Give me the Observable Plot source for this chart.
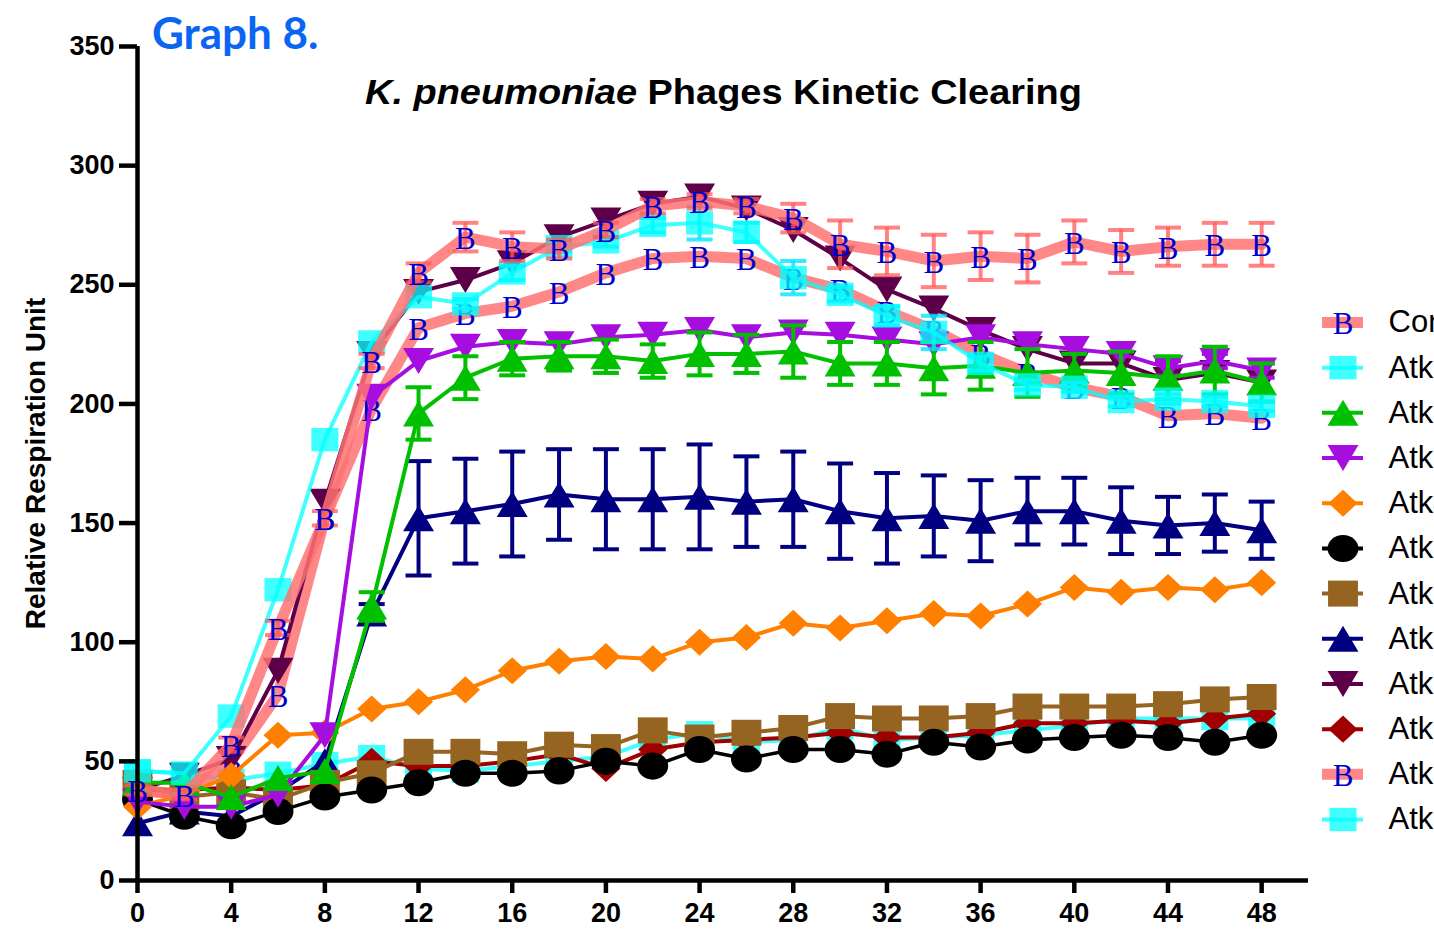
<!DOCTYPE html>
<html>
<head>
<meta charset="utf-8">
<script src="https://cdn.jsdelivr.net/npm/d3@7"></script>
<script src="https://cdn.jsdelivr.net/npm/@observablehq/plot@0.6"></script>
<style>
html, body { margin: 0; padding: 0; background: #fff; overflow: hidden; }
#wrap { position: relative; width: 1434px; height: 931px; overflow: hidden; background: #fff; }
#wrap svg { position: absolute; top: 0; overflow: visible; }
</style>
</head>
<body>
<div id="wrap"></div>
<script>
// ---------- data ----------
const hours = [0, 2, 4, 6, 8, 10, 12, 14, 16, 18, 20, 22, 24, 26, 28, 30, 32, 34, 36, 38, 40, 42, 44, 46, 48];
const yTicks = [0, 50, 100, 150, 200, 250, 300, 350];
const xTicks = [0, 4, 8, 12, 16, 20, 24, 28, 32, 36, 40, 44, 48];
const seriesNames = ["Control", "Atk1", "Atk2", "Atk3", "Atk4", "Atk5", "Atk6", "Atk7", "Atk8", "Atk9", "Atk10", "Atk11"];

const control    = [38, 36, 57, 106, 152, 218, 255, 270, 266, 265, 273, 283, 285, 283, 278, 267, 264, 260, 262, 261, 268, 264, 266, 267, 267];
const controlErr = [2, 2, 3, 3, 3, 3, 4, 6, 6, 4, 3, 3, 3, 3, 6, 10, 10, 11, 10, 10, 9, 9, 8, 9, 9];
const atk1       = [46, 45, 69, 122, 185, 226, 245, 242, 255, 266, 268, 275, 276, 272, 253, 246, 237, 230, 217, 208, 207, 201, 202, 201, 199];
const atk1Err    = [0, 0, 0, 0, 0, 0, 0, 2, 3, 2, 2, 3, 7, 4, 7, 3, 4, 7, 3, 2, 2, 2, 2, 2, 2];
const atk2       = [41, 41, 35, 43, 46, 115, 196, 211, 219, 220, 220, 218, 221, 221, 222, 217, 217, 215, 216, 213, 214, 213, 211, 214, 209];
const atk2Err    = [0, 0, 0, 0, 0, 6, 11, 9, 7, 6, 7, 7, 9, 8, 11, 9, 9, 11, 10, 10, 7, 9, 9, 10, 8];
const atk3       = [33, 31, 31, 36, 61, 203, 218, 224, 226, 225, 228, 229, 231, 228, 230, 229, 227, 225, 228, 225, 223, 221, 215, 218, 214];
const atk3Err    = [0, 0, 0, 0, 0, 0, 0, 0, 0, 0, 0, 0, 0, 0, 0, 0, 0, 0, 0, 0, 0, 0, 3, 3, 3];
const atk4       = [31, 36, 44, 61, 62, 72, 75, 80, 88, 92, 94, 93, 100, 102, 108, 106, 109, 112, 111, 116, 123, 121, 123, 122, 125];
const atk5       = [34, 27, 23, 29, 35, 38, 41, 45, 45, 46, 50, 48, 55, 51, 55, 55, 53, 58, 56, 59, 60, 61, 60, 58, 61];
const atk6       = [41, 35, 37, 34, 41, 45, 54, 54, 53, 57, 56, 63, 60, 62, 64, 69, 68, 68, 69, 73, 73, 73, 74, 76, 77];
const atk7       = [24, 29, 27, 37, 50, 112, 152, 155, 158, 162, 160, 160, 161, 159, 160, 155, 152, 153, 151, 155, 155, 151, 149, 150, 147];
const atk7Err    = [0, 0, 0, 0, 0, 4, 24, 22, 22, 19, 21, 21, 22, 19, 20, 20, 19, 17, 17, 14, 14, 14, 12, 12, 12];
const atk8       = [38, 44, 51, 88, 159, 221, 247, 252, 259, 270, 277, 284, 287, 282, 273, 261, 248, 240, 231, 223, 217, 217, 210, 213, 209];
const atk9       = [38, 38, 39, 38, 40, 50, 48, 48, 50, 53, 47, 55, 58, 59, 60, 62, 60, 60, 62, 66, 66, 67, 66, 68, 70];
const atk10      = [38, 36, 50, 78, 152, 198, 232, 238, 241, 247, 255, 261, 262, 261, 253, 248, 239, 231, 221, 213, 207, 203, 195, 196, 194];
const atk11      = [46, 45, 42, 45, 49, 52, 47, 46, 48, 50, 52, 59, 62, 58, 59, 64, 59, 60, 61, 63, 65, 68, 68, 68, 68];

const seriesValues = [control, atk1, atk2, atk3, atk4, atk5, atk6, atk7, atk8, atk9, atk10, atk11];
const seriesErrors = [controlErr, atk1Err, atk2Err, atk3Err, null, null, null, atk7Err, null, null, null, null];

// ---------- marker shapes ----------
function shape(kind, ax, by) {
  return {
    draw(ctx, size) {
      const r = Math.sqrt(size / Math.PI), a = r * ax, b = r * by;
      if (kind === "rect") { ctx.moveTo(-a, -b); ctx.lineTo(a, -b); ctx.lineTo(a, b); ctx.lineTo(-a, b); ctx.closePath(); }
      else if (kind === "ellipse") {
        const k = 0.5523;
        ctx.moveTo(a, 0);
        ctx.bezierCurveTo(a, k * b, k * a, b, 0, b);
        ctx.bezierCurveTo(-k * a, b, -a, k * b, -a, 0);
        ctx.bezierCurveTo(-a, -k * b, -k * a, -b, 0, -b);
        ctx.bezierCurveTo(k * a, -b, a, -k * b, a, 0);
        ctx.closePath();
      }
      else if (kind === "up") { ctx.moveTo(0, -b); ctx.lineTo(a, b); ctx.lineTo(-a, b); ctx.closePath(); }
      else if (kind === "down") { ctx.moveTo(0, b); ctx.lineTo(a, -b); ctx.lineTo(-a, -b); ctx.closePath(); }
      else if (kind === "diamond") { ctx.moveTo(0, -b); ctx.lineTo(a, 0); ctx.lineTo(0, b); ctx.lineTo(-a, 0); ctx.closePath(); }
      else if (kind === "cap") { ctx.moveTo(-a, 0); ctx.lineTo(a, 0); }
    }
  };
}
const capSymbol = shape("cap", 1.0, 1.0);

// ---------- styles per series ----------
const looks = [
  {color: "#ff7272", width: 11, opacity: 0.85, marker: "B", err: "#ff5a5a", errOpacity: 0.75},
  {color: "#00ffff", width: 4, opacity: 0.75, marker: shape("rect", 1.04, 0.9), err: "#00e5ff", errOpacity: 0.8},
  {color: "#00c000", width: 4, opacity: 1, marker: shape("up", 1.19, 1.0), err: "#00c000", errOpacity: 1},
  {color: "#a60ddf", width: 4, opacity: 1, marker: shape("down", 1.19, 1.0), err: "#a60ddf", errOpacity: 1},
  {color: "#ff8000", width: 4, opacity: 1, marker: shape("diamond", 1.12, 1.04)},
  {color: "#000000", width: 3.5, opacity: 1, marker: shape("ellipse", 1.19, 1.04)},
  {color: "#956421", width: 4, opacity: 1, marker: shape("rect", 1.15, 1.0)},
  {color: "#000080", width: 4, opacity: 1, marker: shape("up", 1.19, 1.0), err: "#000080", errOpacity: 1},
  {color: "#5e0049", width: 4, opacity: 1, marker: shape("down", 1.19, 1.0)},
  {color: "#a00000", width: 4, opacity: 1, marker: shape("diamond", 1.12, 1.04)},
  {color: "#ff7272", width: 11, opacity: 0.85, marker: "B"},
  {color: "#00ffff", width: 4, opacity: 0.75, marker: shape("rect", 1.04, 0.9)}
];

const rowsFor = (k) => hours.map((h, i) => ({
  series: seriesNames[k], hour: h, value: seriesValues[k][i],
  err: seriesErrors[k] ? seriesErrors[k][i] : 0
}));

function markerMark(data, look, opts) {
  if (look.marker === "B") {
    return Plot.text(data, {...opts, text: () => "B", fill: "#0000cc", fontFamily: "Liberation Serif, Times New Roman, serif",
      fontSize: 31, fontWeight: "normal", dy: 2});
  }
  return Plot.dot(data, {...opts, symbol: look.marker, r: 13, fill: look.color, fillOpacity: look.opacity, stroke: "none"});
}

// ---------- main chart ----------
const marks = [];
for (let k = seriesNames.length - 1; k >= 0; k--) {
  const look = looks[k];
  const rows = rowsFor(k);
  marks.push(Plot.line(rows, {x: "hour", y: "value", stroke: look.color, strokeWidth: look.width, strokeOpacity: look.opacity}));
  const eb = rows.filter(d => d.err > 0);
  if (eb.length && look.err) {
    marks.push(Plot.ruleX(eb, {x: "hour", y1: d => d.value - d.err, y2: d => d.value + d.err, stroke: look.err, strokeOpacity: look.errOpacity, strokeWidth: 4}));
    marks.push(Plot.dot(eb, {x: "hour", y: d => d.value + d.err, symbol: capSymbol, r: 13, fill: "none", stroke: look.err, strokeOpacity: look.errOpacity, strokeWidth: 4}));
    marks.push(Plot.dot(eb, {x: "hour", y: d => d.value - d.err, symbol: capSymbol, r: 13, fill: "none", stroke: look.err, strokeOpacity: look.errOpacity, strokeWidth: 4}));
  }
  marks.push(markerMark(rows, look, {x: "hour", y: "value"}));
}

const chart = Plot.plot({
  width: 1434,
  height: 931,
  marginLeft: 137,
  marginRight: 126,
  marginTop: 46,
  marginBottom: 51,
  x: {domain: [0, 50]},
  y: {domain: [0, 350]},
  style: {fontFamily: "Liberation Sans, Arial, sans-serif", fontSize: "27px", fontWeight: "bold", color: "#000", background: "transparent", overflow: "visible"},
  marks: [
    ...marks,
    Plot.ruleX([0], {stroke: "#000", strokeWidth: 4.5}),
    Plot.ruleY([0], {stroke: "#000", strokeWidth: 4.5}),
    Plot.axisY({ticks: yTicks, tickSize: 18, tickPadding: 5, strokeWidth: 4.5, label: null}),
    Plot.axisX({ticks: xTicks, tickSize: 13, tickPadding: 9, strokeWidth: 4.5, label: null}),
    Plot.text(["Relative Respiration Unit"], {frameAnchor: "left", dx: -101, rotate: -90, textAnchor: "middle", fontSize: 28})
  ]
});
document.getElementById("wrap").appendChild(chart);

// titles
const svg = d3.select(chart);
svg.append("text").attr("x", 152).attr("y", 49).attr("text-anchor", "start")
  .attr("font-family", "Lato, Open Sans, sans-serif").attr("font-size", 44).attr("font-weight", "bold")
  .attr("fill", "#0a66f2").text("Graph 8.");
const title = svg.append("text").attr("x", 723.5).attr("y", 104).attr("text-anchor", "middle")
  .attr("font-family", "Liberation Sans, Arial, sans-serif").attr("font-size", 35).attr("font-weight", "bold")
  .attr("fill", "#000").attr("textLength", 717).attr("lengthAdjust", "spacingAndGlyphs");
title.append("tspan").attr("font-style", "italic").text("K. pneumoniae");
title.append("tspan").text(" Phages Kinetic Clearing");

// ---------- legend ----------
const legendMarks = [];
seriesNames.forEach((name, k) => {
  const look = looks[k];
  const item = [{series: name, idx: k}];
  legendMarks.push(Plot.tickY(item, {y: "idx", stroke: look.color, strokeWidth: look.marker === "B" ? 11 : 4, strokeOpacity: look.opacity}));
  legendMarks.push(markerMark(item, look, {y: "idx"}));
  legendMarks.push(Plot.text(item, {y: "idx", text: "series", frameAnchor: "right", dx: 25, textAnchor: "start",
    fontSize: 31, fontWeight: "normal", fill: "#000"}));
});
const legend = Plot.plot({
  width: 134,
  height: 931,
  marginLeft: 22,
  marginRight: 71,
  marginTop: 322,
  marginBottom: 112,
  x: {domain: [0, 1], axis: null},
  y: {domain: [0, 11], reverse: true, axis: null},
  style: {fontFamily: "Liberation Sans, Arial, sans-serif", background: "transparent", overflow: "visible"},
  marks: legendMarks
});
legend.style.left = "1300px";
document.getElementById("wrap").appendChild(legend);
</script>
</body>
</html>
